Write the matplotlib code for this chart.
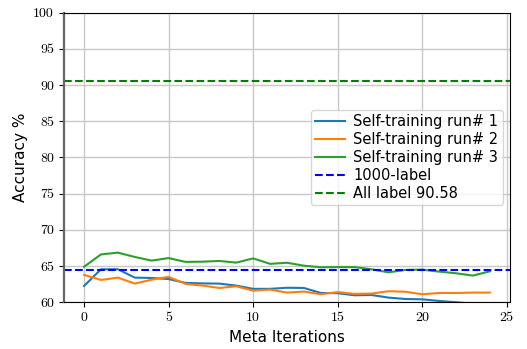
import matplotlib
matplotlib.use("Agg")
import matplotlib.pyplot as plt

iters = list(range(25))
run1 = [62.25, 64.55, 64.55, 63.4, 63.35, 63.2, 62.67, 62.6, 62.57, 62.3, 61.85, 61.85, 62.0,
        61.97, 61.28, 61.25, 60.96, 61.0, 60.64, 60.45, 60.4, 60.18, 60.0, 59.8, 59.6]
run2 = [63.77, 63.08, 63.4, 62.57, 63.12, 63.5, 62.53, 62.3, 61.97, 62.2, 61.6, 61.75, 61.33,
        61.47, 61.1, 61.4, 61.15, 61.2, 61.52, 61.45, 61.1, 61.28, 61.28, 61.33, 61.33]
run3 = [64.9, 66.6, 66.85, 66.25, 65.75, 66.1, 65.57, 65.6, 65.7, 65.47, 66.05, 65.3, 65.45,
        65.05, 64.83, 64.85, 64.85, 64.55, 64.13, 64.46, 64.5, 64.23, 64.0, 63.68, 64.27]
label_1000 = 64.4
all_label = 90.58

fig = plt.figure(figsize=(5.27, 3.49), dpi=100)
ax = fig.add_axes([0.121, 0.134, 0.847, 0.83])

ax.plot(iters, run1, color="tab:blue", lw=1.5, label="Self-training run# 1")
ax.plot(iters, run2, color="tab:orange", lw=1.5, label="Self-training run# 2")
ax.plot(iters, run3, color="tab:green", lw=1.5, label="Self-training run# 3")
ax.axhline(label_1000, color="b", ls="--", lw=1.5, label="1000-label")
ax.axhline(all_label, color="g", ls="--", lw=1.5, label="All label 90.58")

ax.set_ylim(60, 100)
ax.set_xlim(-1.2, 25.2)
ax.set_xticks([0, 5, 10, 15, 20, 25])
ax.set_yticks(range(60, 101, 5))
ax.grid(True, color="#c8c8c8", lw=1.0)
ax.set_axisbelow(True)
ax.spines["left"].set_color("#666666")
ax.spines["left"].set_linewidth(1.6)

for t in ax.get_xticklabels() + ax.get_yticklabels():
    t.set_fontfamily("cmr10")
    t.set_fontsize(10)

ax.set_xlabel("Meta Iterations", fontsize=11)
ax.set_ylabel("Accuracy %", fontsize=11)
ax.legend(loc="center right", fontsize=10.5, handlelength=2.0, labelspacing=0.2,
          borderpad=0.3, handletextpad=0.6)

fig.savefig("out.png", dpi=100)
